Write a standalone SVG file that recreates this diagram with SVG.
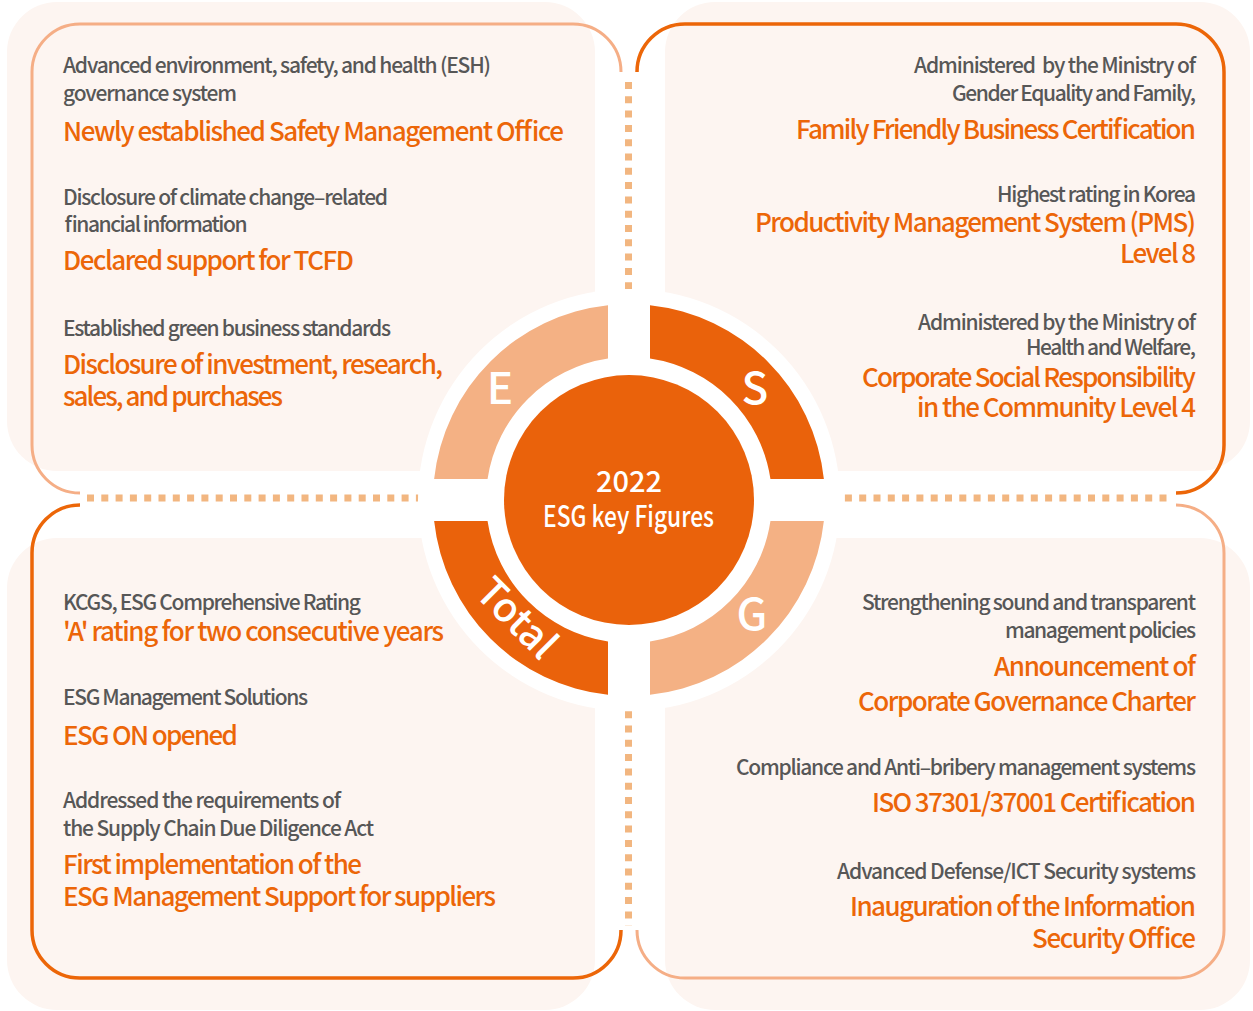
<svg xmlns="http://www.w3.org/2000/svg" width="1253" height="1011" viewBox="0 0 1253 1011">
<style>
.panel{fill:#fdf5f1}
.ol-l{fill:none;stroke:#f5ae86;stroke-width:3}
.ol-d{fill:none;stroke:#ec6608;stroke-width:3.5}
.dots{fill:none;stroke:#f2b680;stroke-width:7;stroke-dasharray:7 7.3}
.seg-l{fill:#f4b184}
.seg-d{fill:#ea620b}
text{font-family:"Noto Sans CJK KR","Noto Sans",sans-serif;font-weight:500}
.g{font-size:21px;fill:#575757}
.o{font-size:26px;fill:#ec6608}
.w{fill:#ffffff}
.big{font-size:44px}
.mid{font-size:29px}
</style>
<rect width="1253" height="1011" fill="#ffffff"/>
<g id="panels">
<rect class="panel" x="7" y="2" width="588" height="469" rx="50"/>
<rect class="panel" x="665" y="2" width="585" height="469" rx="50"/>
<rect class="panel" x="7" y="538" width="588" height="472" rx="50"/>
<rect class="panel" x="665" y="538" width="585" height="472" rx="50"/>
</g>
<g id="connectors">
<path class="ol-l" d="M621,72 A48,48 0 0 0 573,24 H80 A48,48 0 0 0 32,72 V445 A48,48 0 0 0 80,493"/>
<path class="ol-d" d="M637,72 A48,48 0 0 1 685,24 H1176 A48,48 0 0 1 1224,72 V445 A48,48 0 0 1 1176,493"/>
<path class="ol-d" d="M80,505 A48,48 0 0 0 32,553 V930 A48,48 0 0 0 80,978 H573 A48,48 0 0 0 621,930"/>
<path class="ol-l" d="M637,930 A48,48 0 0 0 685,978 H1176 A48,48 0 0 0 1224,930 V553 A48,48 0 0 0 1176,505"/>
<path class="dots" d="M628.5,82 V926"/>
<path class="dots" d="M87,498 H1172"/>
</g>
<g id="hub">
<circle cx="629" cy="500" r="211" fill="#ffffff"/>
<g id="seg-E">
<path class="seg-l" d="M608,305.13 A196,196 0 0 0 434.13,479 H487.55 A143,143 0 0 1 608,358.55 Z"/>
<text class="w big" x="500" y="404" text-anchor="middle">E</text>
</g>
<g id="seg-S">
<path class="seg-d" d="M650,305.13 A196,196 0 0 1 823.87,479 H770.45 A143,143 0 0 0 650,358.55 Z"/>
<text class="w big" x="755" y="404" text-anchor="middle">S</text>
</g>
<g id="seg-G">
<path class="seg-l" d="M823.87,521 A196,196 0 0 1 650,694.87 V641.45 A143,143 0 0 0 770.45,521 Z"/>
<text class="w big" x="752" y="630" text-anchor="middle">G</text>
</g>
<g id="seg-Total">
<path class="seg-d" d="M608,694.87 A196,196 0 0 1 434.13,521 H487.55 A143,143 0 0 0 608,641.45 Z"/>
<text class="w" font-size="40" text-anchor="middle" transform="translate(507,628) rotate(45)">Total</text>
</g>
<g id="center">
<circle cx="629" cy="500" r="125" fill="#ea620b"/>
<text class="w mid" x="629" y="492" text-anchor="middle">2022</text>
<text class="w mid" x="543" y="527" textLength="171" lengthAdjust="spacingAndGlyphs">ESG key Figures</text>
</g>
</g>
<g id="node-E">
<text class="g" x="63" y="73" textLength="428">Advanced environment, safety, and health (ESH)</text>
<text class="g" x="63" y="101" textLength="174">governance system</text>
<text class="o" x="63" y="141" textLength="501">Newly established Safety Management Office</text>
<text class="g" x="63" y="205" textLength="325">Disclosure of climate change–related</text>
<text class="g" x="63" y="232" textLength="183">financial information</text>
<text class="o" x="63" y="270" textLength="291">Declared support for TCFD</text>
<text class="g" x="63" y="336" textLength="328">Established green business standards</text>
<text class="o" x="63" y="374" textLength="380">Disclosure of investment, research,</text>
<text class="o" x="63" y="406" textLength="220">sales, and purchases</text>
</g>
<g id="node-S">
<text class="g" x="914" y="73" textLength="282" xml:space="preserve">Administered  by the Ministry of</text>
<text class="g" x="952" y="101" textLength="244">Gender Equality and Family,</text>
<text class="o" x="796" y="139" textLength="400">Family Friendly Business Certification</text>
<text class="g" x="997" y="202" textLength="199">Highest rating in Korea</text>
<text class="o" x="755" y="232" textLength="441">Productivity Management System (PMS)</text>
<text class="o" x="1120" y="263" textLength="76">Level 8</text>
<text class="g" x="918" y="330" textLength="278">Administered by the Ministry of</text>
<text class="g" x="1026" y="355" textLength="170">Health and Welfare,</text>
<text class="o" x="862" y="387" textLength="334">Corporate Social Responsibility</text>
<text class="o" x="917" y="417" textLength="279">in the Community Level 4</text>
</g>
<g id="node-Total">
<text class="g" x="63" y="610" textLength="298">KCGS, ESG Comprehensive Rating</text>
<text class="o" x="63" y="641" textLength="381">'A' rating for two consecutive years</text>
<text class="g" x="63" y="705" textLength="245">ESG Management Solutions</text>
<text class="o" x="63" y="745" textLength="175">ESG ON opened</text>
<text class="g" x="63" y="808" textLength="278">Addressed the requirements of</text>
<text class="g" x="63" y="836" textLength="311">the Supply Chain Due Diligence Act</text>
<text class="o" x="63" y="874" textLength="299">First implementation of the</text>
<text class="o" x="63" y="906" textLength="433">ESG Management Support for suppliers</text>
</g>
<g id="node-G">
<text class="g" x="862" y="610" textLength="334">Strengthening sound and transparent</text>
<text class="g" x="1005" y="638" textLength="191">management policies</text>
<text class="o" x="994" y="676" textLength="202">Announcement of</text>
<text class="o" x="858" y="711" textLength="338">Corporate Governance Charter</text>
<text class="g" x="736" y="775" textLength="460">Compliance and Anti–bribery management systems</text>
<text class="o" x="872" y="812" textLength="324">ISO 37301/37001 Certification</text>
<text class="g" x="837" y="879" textLength="359">Advanced Defense/ICT Security systems</text>
<text class="o" x="850" y="916" textLength="346">Inauguration of the Information</text>
<text class="o" x="1032" y="948" textLength="164">Security Office</text>
</g>
</svg>
